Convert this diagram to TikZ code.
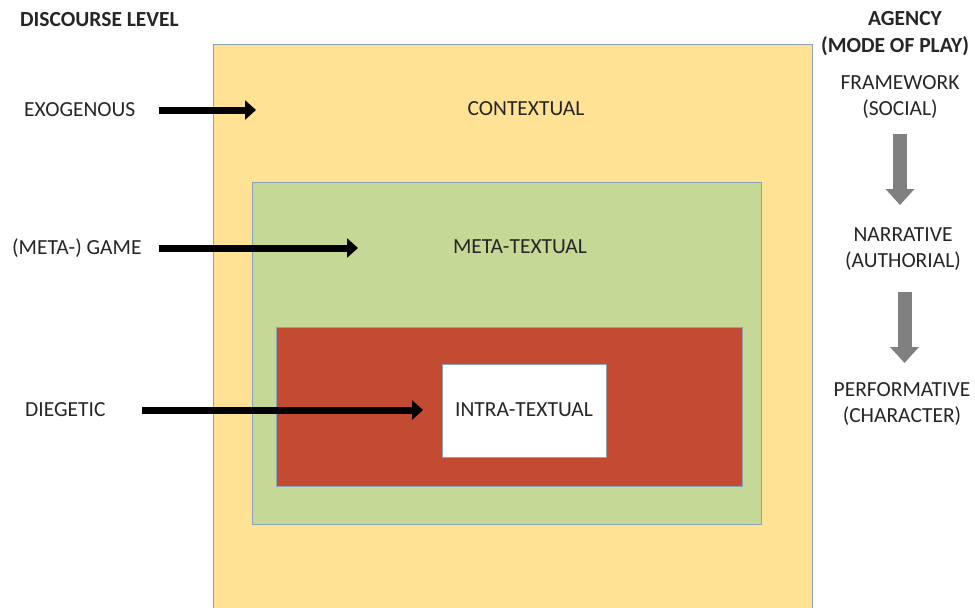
\documentclass[tikz,border=0pt]{standalone}
\usepackage{fontspec}
\setmainfont{Carlito}
\usetikzlibrary{arrows.meta}
\definecolor{yel}{HTML}{FFE293}
\definecolor{grn}{HTML}{C5D895}
\definecolor{rd}{HTML}{C24B31}
\definecolor{bord}{HTML}{8AA3B8}
\definecolor{txt}{HTML}{262626}
\definecolor{garrow}{HTML}{808080}
\tikzset{
  lbl/.style={font=\fontsize{21.5}{26}\selectfont, text=txt, inner sep=0pt, align=center},
  hdr/.style={lbl, font=\fontsize{21.5}{26}\selectfont\bfseries},
  layer/.style={draw=bord, line width=0.8pt},
  blackarrow/.style={draw=black, line width=7pt, -{Triangle[length=11pt,width=19pt]}},
  grayarrow/.style={draw=garrow, line width=14pt, -{Triangle[length=16pt,width=28pt]}}
}
\begin{document}
\begin{tikzpicture}[x=1pt,y=-1pt]
\useasboundingbox (0,0) rectangle (975,608);
% layers
\path[layer, fill=yel] (213,44) rectangle (812,612);
\path[layer, fill=grn] (252,182) rectangle (761,524);
\path[layer, fill=rd] (276,327) rectangle (742,486);
\node[layer, fill=white, minimum width=164pt, minimum height=93pt, inner sep=0pt, anchor=north west] (intra) at (442,364) {};
\node[lbl] (intratext) at (524,410) {INTRA-TEXTUAL};
% layer labels
\node[lbl] (ctx) at (526,109) {CONTEXTUAL};
\node[lbl] (meta) at (520,247) {META-TEXTUAL};
% headers
\node[hdr, anchor=west] (disc) at (20,20) {DISCOURSE LEVEL};
\node[hdr] (agency) at (905,19) {AGENCY};
\node[hdr] (mode) at (895,46) {(MODE OF PLAY)};
% left labels
\node[lbl, anchor=west] (exo) at (24,110) {EXOGENOUS};
\node[lbl, anchor=west] (game) at (12,248) {(META-) GAME};
\node[lbl, anchor=west] (dieg) at (25,410) {DIEGETIC};
\coordinate (exoend) at (256,110);
\coordinate (gameend) at (358,248);
\coordinate (diegend) at (423,410);
\draw[blackarrow] (159,110) -- (exoend);
\draw[blackarrow] (159,248) -- (gameend);
\draw[blackarrow] (142,410) -- (diegend);
% right column
\node[lbl] (fw) at (900,97) {FRAMEWORK\\(SOCIAL)};
\node[lbl] (nar) at (903,249) {NARRATIVE\\(AUTHORIAL)};
\node[lbl] (perf) at (902,404) {PERFORMATIVE\\(CHARACTER)};
\coordinate (a1s) at (900,134);
\coordinate (a1e) at (900,205);
\coordinate (a2s) at (904.5,292);
\coordinate (a2e) at (904.5,363);
\draw[grayarrow] (a1s) -- (a1e);
\draw[grayarrow] (a2s) -- (a2e);
\end{tikzpicture}
\end{document}
